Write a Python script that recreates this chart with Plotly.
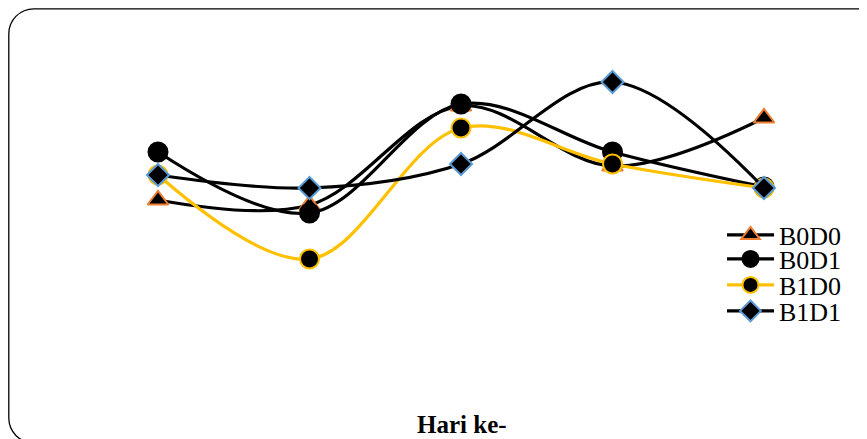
import plotly.graph_objects as go

W, H = 867, 439

# Data (days and values, arbitrary units)
days = [1, 2, 3, 4, 5]
series_names = ["B0D0", "B0D1", "B1D0", "B1D1"]
b0d0 = [23.9, 23.4, 33.3, 27.3, 32.1]
b0d1 = [28.7, 22.6, 33.5, 28.7, 25.2]
b1d0 = [26.4, 18.0, 31.1, 27.5, 25.1]
b1d1 = [26.4, 25.1, 27.5, 35.7, 25.1]
x_title = "Hari ke-"

styles = {
    "B0D0": dict(line="black", symbol="triangle-up", fill="black", edge="#ED7D31", size=18),
    "B0D1": dict(line="black", symbol="circle", fill="black", edge="black", size=19),
    "B1D0": dict(line="#FFC000", symbol="circle", fill="black", edge="#FFC000", size=19),
    "B1D1": dict(line="black", symbol="diamond", fill="black", edge="#5B9BD5", size=17),
}
values = {"B0D0": b0d0, "B0D1": b0d1, "B1D0": b1d0, "B1D1": b1d1}
legend_ids = ["legend", "legend2", "legend3", "legend4"]

fig = go.Figure()
for name, lid in zip(series_names, legend_ids):
    s = styles[name]
    fig.add_trace(go.Scatter(
        x=days, y=values[name], name=name, mode="lines+markers", legend=lid,
        line=dict(color=s["line"], width=3.2, shape="spline", smoothing=1.0),
        marker=dict(symbol=s["symbol"], size=s["size"], color=s["fill"],
                    line=dict(color=s["edge"], width=2)),
    ))

# pixel -> paper helpers (figure pixel coords)
def px(x):
    return x / W

def py(y):
    return 1 - y / H

# rounded frame
x0, y0, x1, y1, r = 0.8, 0.8, 874, 435, 25
k = 0.5523 * r
path = (
    f"M {px(x0 + r)},{py(y0)} L {px(x1 - r)},{py(y0)} "
    f"C {px(x1 - r + k)},{py(y0)} {px(x1)},{py(y0 + r - k)} {px(x1)},{py(y0 + r)} "
    f"L {px(x1)},{py(y1 - r)} "
    f"C {px(x1)},{py(y1 - r + k)} {px(x1 - r + k)},{py(y1)} {px(x1 - r)},{py(y1)} "
    f"L {px(x0 + r)},{py(y1)} "
    f"C {px(x0 + r - k)},{py(y1)} {px(x0)},{py(y1 - r + k)} {px(x0)},{py(y1 - r)} "
    f"L {px(x0)},{py(y0 + r)} "
    f"C {px(x0)},{py(y0 + r - k)} {px(x0 + r - k)},{py(y0)} {px(x0 + r)},{py(y0)} Z"
)
fig.add_shape(type="path", path=path, xref="paper", yref="paper",
              line=dict(color="black", width=1.3), fillcolor="rgba(0,0,0,0)", layer="below")

fig.add_annotation(text=f"<b>{x_title}</b>", x=px(454), y=py(416), xref="paper", yref="paper",
                   showarrow=False, font=dict(family="Liberation Serif", size=25, color="black"),
                   xanchor="center", yanchor="middle")

legend_font = dict(family="Liberation Serif", size=26, color="black")
row_y = [227, 251, 277, 303]
legends = {}
for lid, ry in zip(legend_ids, row_y):
    legends[lid] = dict(x=px(714), y=py(ry), xanchor="left", yanchor="middle",
                        font=legend_font, bgcolor="rgba(0,0,0,0)", itemwidth=47)

step = 151.5
xr0 = 1 - 150 / step
fig.update_layout(
    width=W, height=H,
    margin=dict(l=0, r=0, t=0, b=0),
    paper_bgcolor="white", plot_bgcolor="white",
    showlegend=True,
    xaxis=dict(visible=False, range=[xr0, xr0 + W / step]),
    yaxis=dict(visible=False, range=[-0.8, 43.1]),
    **legends,
)

fig.write_html("out.html")
